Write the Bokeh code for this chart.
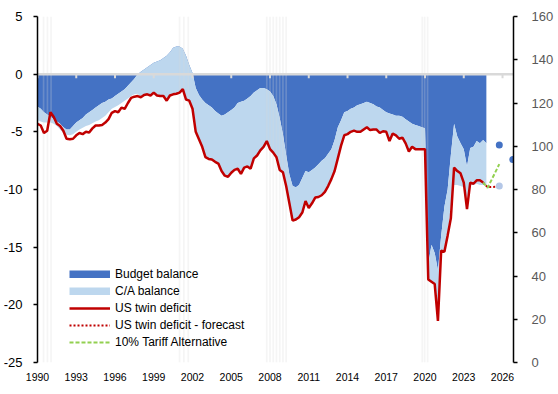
import numpy as np
from bokeh.plotting import figure
from bokeh.models import (Range1d, LinearAxis, FixedTicker, Span, Legend,
                          LegendItem, ColumnDataSource)
from bokeh.embed import file_html
from bokeh.resources import INLINE

# ---------------- data (quarterly, % of GDP) ----------------
start_year = 1990.0
step = 0.25

budget = [
    -2.8, -3.0, -3.3, -3.5, -3.7, -3.9, -4.1, -4.3, -4.6, -4.8,
    -4.8, -4.5, -4.2, -4.0, -3.8, -3.5, -3.3, -3.1, -2.9, -2.7,
    -2.5, -2.4, -2.2, -2.1, -1.9, -1.7, -1.5, -1.3, -1.0, -0.7,
    -0.4, 0.0, 0.2, 0.4, 0.6, 0.8, 1.0, 1.1, 1.2, 1.4,
    1.6, 1.9, 2.3, 2.4, 2.4, 2.2, 1.6, 0.8, 0.1, -1.2,
    -1.8, -2.2, -2.5, -2.7, -2.9, -3.2, -3.4, -3.6, -3.5, -3.3,
    -3.1, -2.9, -2.5, -2.4, -2.3, -2.1, -1.9, -1.6, -1.4, -1.2,
    -1.2, -1.3, -1.5, -1.9, -2.6, -3.8, -5.2, -7.0, -8.7, -9.7,
    -9.8, -9.6, -9.0, -8.4, -8.5, -8.3, -8.1, -7.8, -7.5, -7.3,
    -6.9, -6.5, -5.7, -4.6, -4.0, -3.3, -3.2, -3.0, -2.9, -2.7,
    -2.6, -2.5, -2.4, -2.5, -2.6, -2.8, -2.9, -3.1, -3.3, -3.4,
    -3.5, -3.6, -3.6, -3.7, -3.9, -4.1, -4.3, -4.4, -4.5, -4.6,
    -4.7, -16.5, -14.8, -15.5, -17.0, -14.0, -11.5, -10.0, -7.0, -4.3,
    -5.4, -6.0, -6.5, -8.0, -6.4, -6.3, -5.8, -6.0, -5.7, -6.0,
]

ca_balance = [
    -1.2, -1.1, -0.9, -0.7, -0.5, -0.4, -0.4, -0.5, -0.5, -0.45,
    -0.5, -0.7, -0.8, -0.8, -0.85, -1.0, -1.1, -1.15, -1.2, -1.3,
    -1.3, -1.2, -1.1, -0.9, -0.95, -1.0, -1.0, -1.0, -1.1, -1.2,
    -1.35, -1.7, -2.2, -2.2, -2.35, -2.65, -2.6, -2.95, -3.1, -3.3,
    -3.7, -3.75, -4.05, -4.1, -4.0, -3.5, -3.8, -3.1, -3.2, -4.0,
    -3.8, -4.1, -4.7, -4.65, -4.5, -4.4, -4.35, -4.8, -5.3, -5.6,
    -5.45, -5.4, -5.7, -6.25, -5.8, -5.9, -6.3, -5.7, -5.65, -5.4,
    -5.1, -4.5, -5.0, -4.9, -4.6, -4.5, -3.3, -2.7, -2.5, -3.0,
    -2.8, -2.8, -3.0, -2.6, -3.1, -2.9, -2.6, -2.85, -3.0, -2.9,
    -2.8, -2.6, -2.7, -2.7, -2.2, -2.0, -2.0, -2.0, -2.0, -2.3,
    -2.4, -2.3, -2.2, -2.35, -2.2, -2.0, -2.2, -1.85, -1.7, -2.4,
    -1.65, -1.7, -2.0, -1.8, -2.1, -2.6, -2.0, -2.1, -2.0, -1.9,
    -1.8, -1.3, -3.2, -2.7, -4.4, -1.3, -3.9, -4.0, -4.5, -5.3,
    -4.2, -3.7, -3.3, -2.8, -3.2, -3.3, -3.7, -3.6, -3.9, -3.6,
]

twin_deficit = [
    -4.3, -4.45, -5.1, -4.9, -3.3, -3.7, -4.3, -4.5, -4.9, -5.6,
    -5.65, -5.6, -5.3, -5.1, -5.2, -5.0, -5.05, -4.7, -4.45, -4.45,
    -4.4, -4.2, -3.9, -3.35, -3.2, -3.3, -2.9, -3.0, -2.5, -2.05,
    -1.95, -1.9, -2.0, -1.8, -1.75, -1.85, -1.6, -1.85, -1.9, -1.9,
    -2.3, -1.85, -1.75, -1.7, -1.6, -1.3, -2.2, -2.3, -3.0, -5.0,
    -5.65, -6.3, -7.2, -7.35, -7.4, -7.6, -7.75, -8.4, -8.8, -8.9,
    -8.55, -8.3, -8.2, -8.65, -8.1, -8.0, -8.2, -7.3, -7.05, -6.6,
    -6.3, -5.8, -6.5, -6.8, -7.2, -8.3, -8.5, -9.7, -11.2, -12.7,
    -12.6, -12.4, -12.0, -11.0, -11.6, -11.2, -10.7, -10.65, -10.5, -10.2,
    -9.7, -9.1, -8.4, -7.3, -6.2, -5.3, -5.2, -5.0, -4.9, -5.0,
    -5.0, -4.8, -4.6, -4.85, -4.8, -4.8, -5.1, -4.95, -5.0, -5.8,
    -5.15, -5.3, -5.6, -5.5, -6.0, -6.7, -6.3, -6.5, -6.5, -6.5,
    -6.5, -17.8, -18.0, -18.2, -21.4, -15.3, -15.4, -14.0, -12.5, -8.1,
    -8.4, -8.6, -9.4, -11.7, -9.4, -9.5, -9.2, -9.2, -9.4,
]

forecast_years = [2024.5, 2024.85, 2025.75]
twin_forecast = [-9.4, -9.8, -9.75]
tariff_alternative = [-9.4, -9.85, -7.8]

point_years = [2025.75, 2025.75, 2026.8]
point_values = [-6.15, -9.7, -7.4]
point_colors = ["#4472C4", "#B4C7E7", "#4472C4"]

recession_marks = [1990.47, 1990.77, 1991.05,
                   2001.0, 2001.33, 2001.67,
                   2007.75, 2008.0, 2008.25, 2008.5, 2008.75, 2009.0, 2009.25,
                   2019.78, 2019.97, 2020.2]

x_ticks = list(range(1990, 2027, 3))
left_ticks = [-25, -20, -15, -10, -5, 0, 5]
right_ticks = [0, 20, 40, 60, 80, 100, 120, 140, 160]

# ---------------- derived ----------------
quarters = start_year + step * np.arange(len(budget))
twin_years = start_year + step * np.arange(len(twin_deficit))
budget_arr = np.array(budget)
total_arr = budget_arr + np.array(ca_balance)

DARK = "#4472C4"
LIGHT = "#BDD7EE"
RED = "#C00000"
GREEN = "#92D050"
FONT = "Liberation Sans"

p = figure(width=556, height=385, x_range=Range1d(1990, 2026.85),
           y_range=Range1d(-25, 5), output_backend="svg",
           toolbar_location=None, min_border_left=35, min_border_right=35,
           min_border_top=16, min_border_bottom=23)
p.outline_line_color = None
p.xgrid.visible = False
p.ygrid.visible = False
p.background_fill_color = "white"

# stacked areas
p.varea(x=quarters, y1=0, y2=budget_arr, fill_color=DARK)
p.varea(x=quarters, y1=budget_arr, y2=total_arr, fill_color=LIGHT)

# recession shading
p.vbar(x=recession_marks, width=0.13, top=5, bottom=-25,
       fill_color="#d9d9d9", fill_alpha=0.25, line_color=None)

# zero line with tick marks
p.add_layout(Span(location=0, dimension="width", line_color="#d9d9d9",
                  line_width=2.5, level="glyph"))
p.segment(x0=x_ticks, y0=[0] * len(x_ticks), x1=x_ticks,
          y1=[-0.35] * len(x_ticks), line_color="#d9d9d9", line_width=2)

# lines
r_t = p.line(twin_years, twin_deficit, line_color=RED, line_width=2.5)
r_f = p.line(forecast_years, twin_forecast, line_color=RED, line_width=2,
             line_dash="2 2")
r_g = p.line(forecast_years, tariff_alternative, line_color=GREEN,
             line_width=2, line_dash="4 2")
p.scatter(point_years, point_values, size=7, fill_color=point_colors,
          line_color=None)

# legend swatches for the two areas (no visible data)
nan_src = dict(x=[np.nan], y=[np.nan])
r_b = p.line(x="x", y="y", source=ColumnDataSource(nan_src), line_color=DARK,
             line_width=8, line_cap="butt")
r_c = p.line(x="x", y="y", source=ColumnDataSource(nan_src), line_color=LIGHT,
             line_width=8, line_cap="butt")

legend = Legend(items=[
    LegendItem(label="Budget balance", renderers=[r_b]),
    LegendItem(label="C/A balance", renderers=[r_c]),
    LegendItem(label="US twin deficit", renderers=[r_t]),
    LegendItem(label="US twin deficit - forecast", renderers=[r_f]),
    LegendItem(label="10% Tariff Alternative", renderers=[r_g]),
], location=(32, 13), glyph_width=41, glyph_height=8, label_standoff=5,
    spacing=3, padding=0, margin=0, border_line_color=None,
    background_fill_alpha=0, label_text_font=FONT,
    label_text_font_size="12px", label_text_color="#000000", label_height=12)
p.add_layout(legend)

# left axis
ya = p.yaxis[0]
ya.ticker = FixedTicker(ticks=left_ticks)
ya.major_label_overrides = {t: str(t) for t in left_ticks}
ya.axis_line_color = "black"
ya.axis_line_width = 1.5
ya.major_tick_line_color = "black"
ya.major_tick_line_width = 1.5
ya.major_tick_out = 4
ya.major_tick_in = 0
ya.minor_tick_line_color = None
ya.major_label_standoff = 11
ya.major_label_text_font = FONT
ya.major_label_text_font_size = "13px"
ya.major_label_text_color = "black"

# right axis
p.extra_y_ranges = {"right": Range1d(0, 160)}
ra = LinearAxis(y_range_name="right", ticker=FixedTicker(ticks=right_ticks))
ra.axis_line_color = "black"
ra.axis_line_width = 1.5
ra.major_tick_line_color = "black"
ra.major_tick_line_width = 1.5
ra.major_tick_out = 4
ra.major_tick_in = 0
ra.minor_tick_line_color = None
ra.major_label_standoff = 14
ra.major_label_text_font = FONT
ra.major_label_text_font_size = "13px"
ra.major_label_text_color = "#595959"
p.add_layout(ra, "right")

# bottom axis (labels only)
xa = p.xaxis[0]
xa.ticker = FixedTicker(ticks=x_ticks)
xa.axis_line_color = None
xa.major_tick_line_color = None
xa.major_tick_out = 0
xa.major_tick_in = 0
xa.minor_tick_line_color = None
xa.major_label_standoff = 10
xa.major_label_text_font = FONT
xa.major_label_text_font_size = "10.5px"
xa.major_label_text_color = "black"

open("out.html", "w").write(file_html(p, INLINE, title="US twin deficit"))
